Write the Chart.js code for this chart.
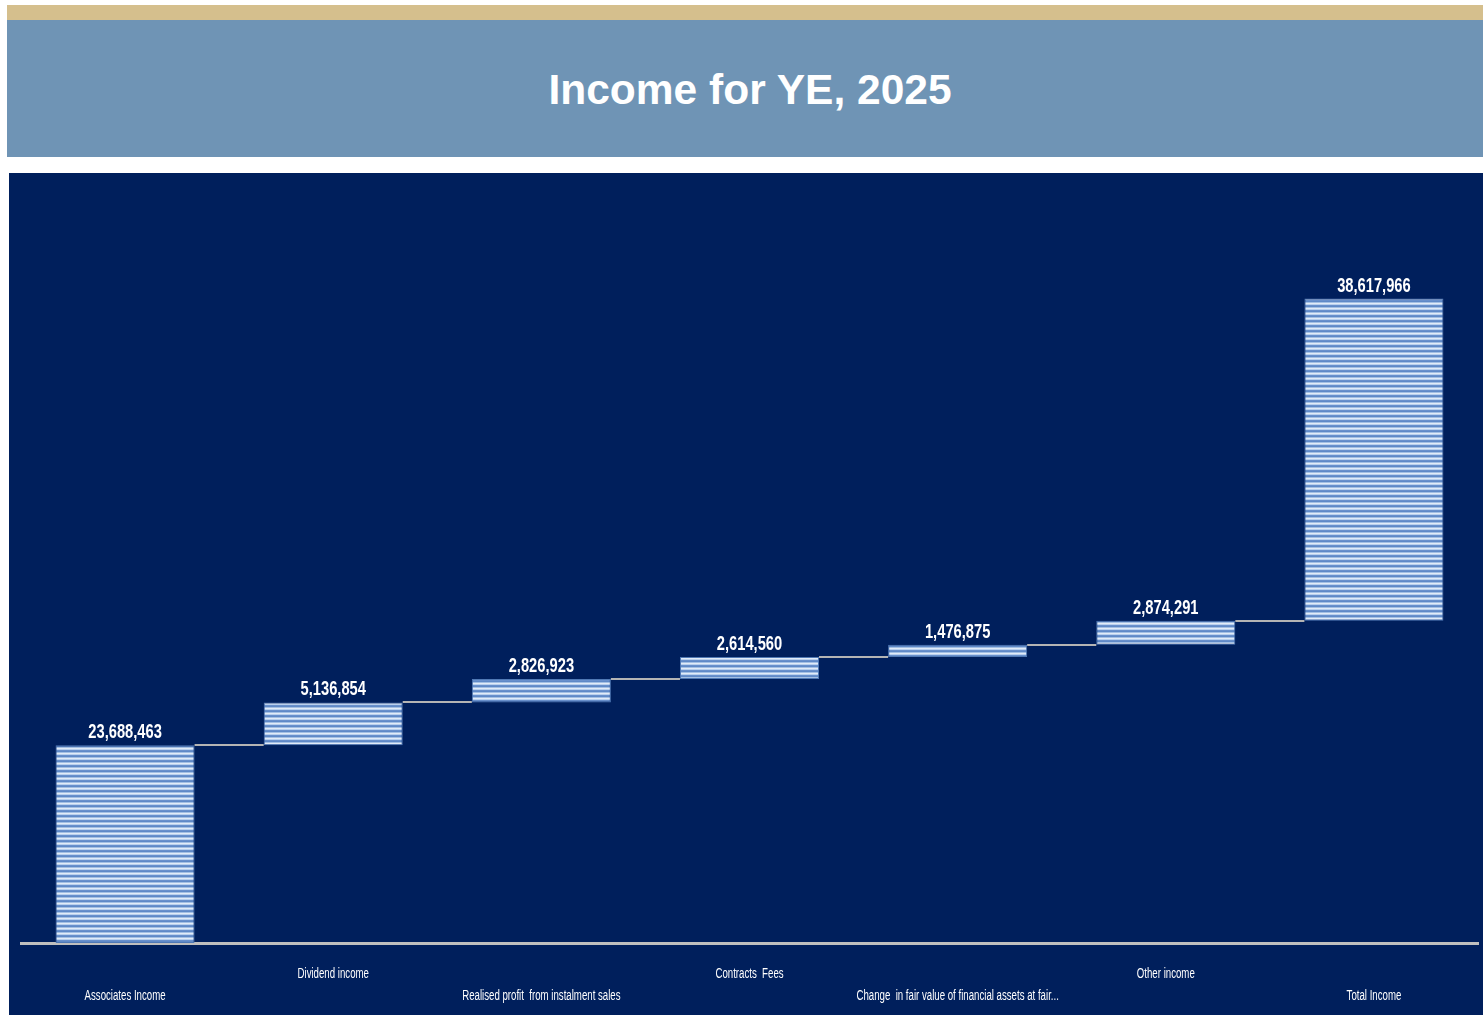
<!DOCTYPE html>
<html>
<head>
<meta charset="utf-8">
<script src="https://cdn.jsdelivr.net/npm/chart.js@4.4.1/dist/chart.umd.min.js"></script>
<style>
  body { margin: 0; background: #fff; width: 1483px; height: 1015px; overflow: hidden; position: relative; }
  #tan { position: absolute; left: 7px; top: 5px; width: 1476px; height: 15px; background: #d5bf8d; }
  #head { position: absolute; left: 7px; top: 20px; width: 1476px; height: 137px; background: #6f94b5;
    color: #fff; font: bold 42.5px "Liberation Sans", Arial, sans-serif; text-align: center; line-height: 140px;
    text-indent: 10px; }
  #panel { position: absolute; left: 9px; top: 173px; width: 1474px; height: 842px; background: #001f5c; }
</style>
</head>
<body>
<div id="tan"></div>
<div id="head">Income for YE, 2025</div>
<div id="panel"><canvas id="myChart" width="1474" height="842"></canvas></div>
<script>
const categories = [
  "Associates Income",
  "Dividend income",
  "Realised profit  from instalment sales",
  "Contracts  Fees",
  "Change  in fair value of financial assets at fair...",
  "Other income",
  "Total Income"
];
const amounts = [23688463, 5136854, 2826923, 2614560, 1476875, 2874291, 38617966];

// waterfall: each bar starts where the previous one ended (the total too, like the source)
let running = 0;
const floating = amounts.map((v) => {
  const bar = [running, running + v];
  running += v;
  return bar;
});

const makeStripes = () => {
  const c = document.createElement("canvas");
  c.width = 1;
  c.height = 5;
  const g = c.getContext("2d");
  const rows = ["#e1ebf8", "#b9d0ee", "#6990cc", "#5f89c7", "#a3bfe4"];
  rows.forEach((col, i) => { g.fillStyle = col; g.fillRect(0, i, 1, 1); });
  return g.createPattern(c, "repeat");
};

// narrow text, the source uses a condensed face
const narrowText = (ctx, text, x, y, squeeze) => {
  ctx.save();
  ctx.translate(x, y);
  ctx.scale(squeeze, 1);
  ctx.fillText(text, 0, 0);
  ctx.restore();
};

const extras = {
  id: "extras",
  afterDatasetsDraw(chart) {
    const ctx = chart.ctx;
    const meta = chart.getDatasetMeta(0);
    const y = chart.scales.y;
    const x = chart.scales.x;
    ctx.save();
    ctx.strokeStyle = "#b4b4b4";
    ctx.lineWidth = 2;
    for (let i = 0; i < meta.data.length - 1; i++) {
      const a = meta.data[i], b = meta.data[i + 1];
      const py = Math.round(y.getPixelForValue(floating[i][1]));
      ctx.beginPath();
      ctx.moveTo(a.x + a.width / 2, py);
      ctx.lineTo(b.x - b.width / 2, py);
      ctx.stroke();
    }
    ctx.fillStyle = "#fff";
    ctx.textAlign = "center";
    // value labels
    ctx.font = 'bold 21px "Liberation Sans", Arial, sans-serif';
    ctx.textBaseline = "alphabetic";
    meta.data.forEach((bar, i) => {
      const top = y.getPixelForValue(floating[i][1]);
      narrowText(ctx, amounts[i].toLocaleString("en-US"), bar.x, top - 7, 0.7);
    });
    // category labels, staggered in two rows
    ctx.font = '14px "Liberation Sans", Arial, sans-serif';
    ctx.textBaseline = "middle";
    const base = x.bottom;
    categories.forEach((name, i) => {
      const px = x.getPixelForTick(i);
      narrowText(ctx, name, px, base + (i % 2 === 0 ? 53 : 31), 0.69);
    });
    ctx.restore();
  }
};

new Chart("myChart", {
  type: "bar",
  data: {
    labels: categories,
    datasets: [
      {
        data: floating,
        backgroundColor: makeStripes(),
        borderColor: "#5079b5",
        borderWidth: 1,
        borderSkipped: false,
        categoryPercentage: 1,
        barPercentage: 0.668
      }
    ]
  },
  options: {
    responsive: false,
    animation: false,
    layout: { padding: { left: 12, right: 5, top: 19, bottom: 72 } },
    plugins: { legend: { display: false }, tooltip: { enabled: false } },
    scales: {
      y: { display: false, min: 0, max: 90000000 },
      x: {
        grid: { display: false, drawTicks: false },
        border: { display: true, color: "#bfbfbf", width: 3 },
        ticks: { display: false }
      }
    }
  },
  plugins: [extras]
});
</script>
</body>
</html>
